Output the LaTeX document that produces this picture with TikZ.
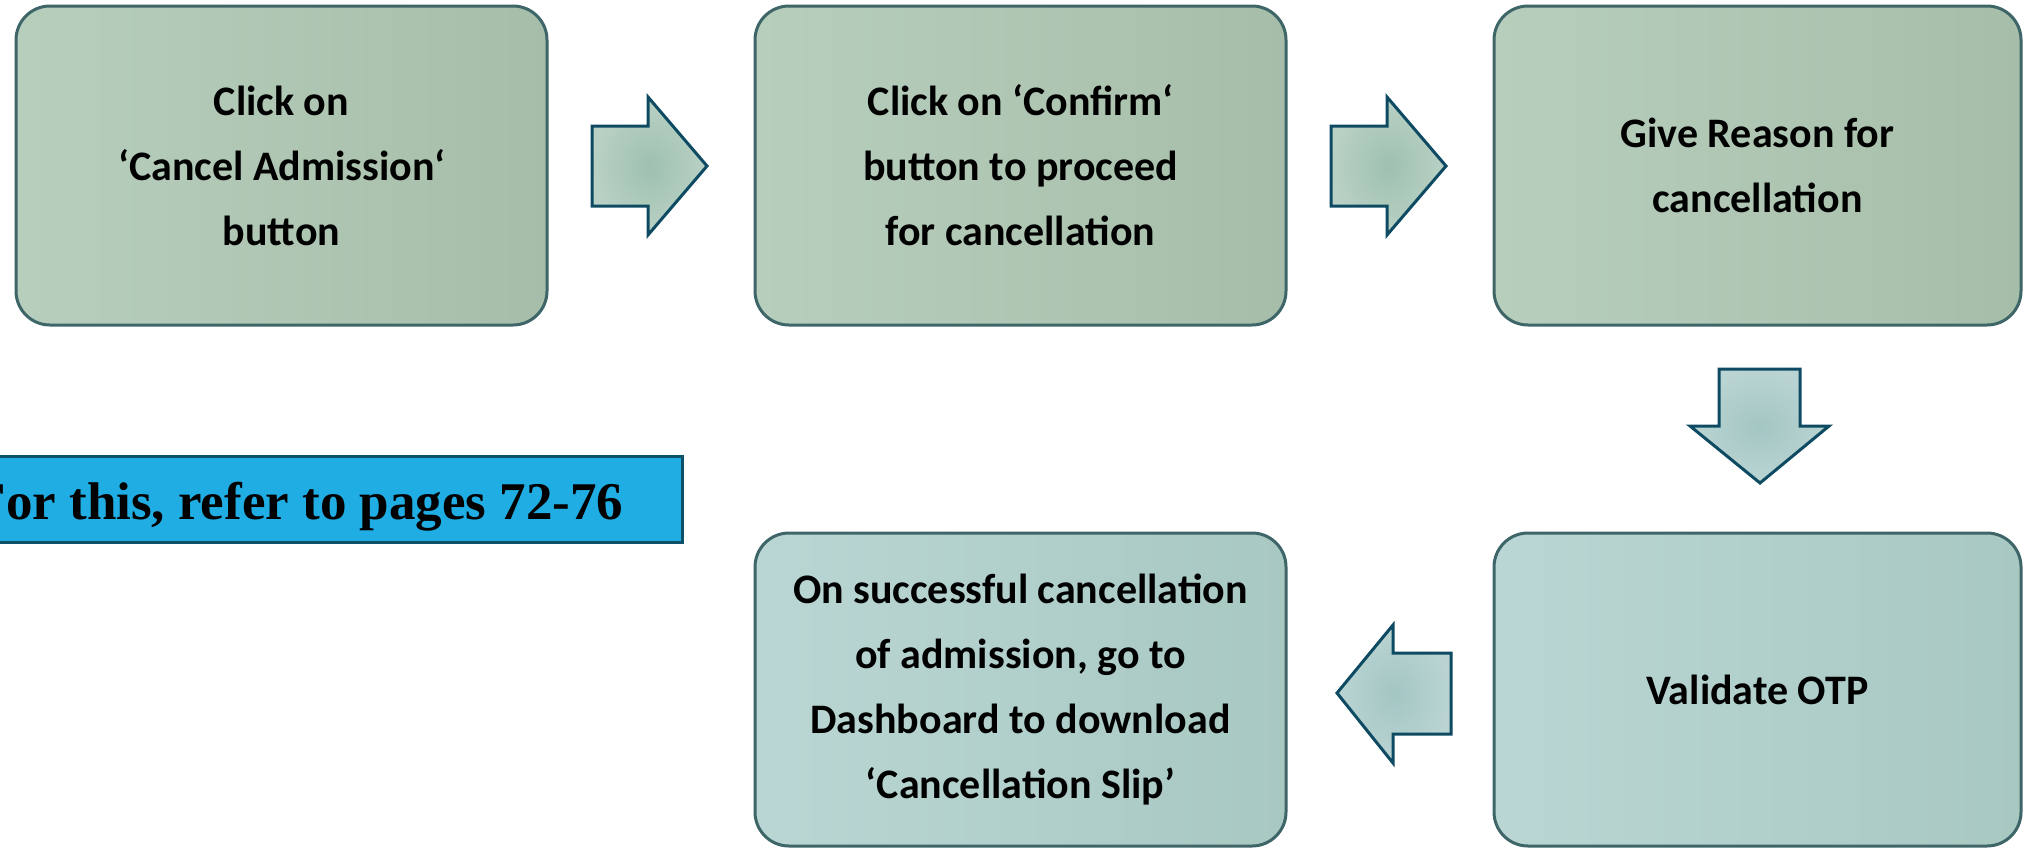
\documentclass[tikz,border=0pt]{standalone}
\usepackage{fontspec}
\setmainfont{Carlito}
\newfontfamily\labfont{Liberation Serif}
\definecolor{boxedge}{HTML}{3E6568}
\definecolor{topL}{HTML}{B7CEBD}
\definecolor{topR}{HTML}{A6BEA9}
\definecolor{botL}{HTML}{BAD6D4}
\definecolor{botR}{HTML}{A8C8C2}
\definecolor{arredge}{HTML}{0E4B62}
\definecolor{arrin}{HTML}{9FC1AF}
\definecolor{arrout}{HTML}{B9D1C5}
\definecolor{arrinB}{HTML}{A3C6C3}
\definecolor{arroutB}{HTML}{BAD4D3}
\definecolor{labfill}{HTML}{1FADE4}
\definecolor{labedge}{HTML}{0D5168}
\tikzset{
  stepbox/.style={draw=boxedge, line width=3pt, rounded corners=34pt,
    align=center, font=\fontsize{42}{65}\selectfont\bfseries, text=black,
    inner sep=0pt},
  toprow/.style={stepbox, left color=topL, right color=topR,
    minimum width=531pt, minimum height=319pt},
  botrow/.style={stepbox, left color=botL, right color=botR,
    minimum width=531pt, minimum height=313pt},
  blockarrow/.style={draw=arredge, line width=3pt, line join=miter,
    inner color=arrin, outer color=arrout},
  blockarrowB/.style={draw=arredge, line width=3pt, line join=miter,
    inner color=arrinB, outer color=arroutB},
}
\begin{document}
\begin{tikzpicture}[x=1pt,y=-1pt]
\useasboundingbox (0,0) rectangle (2023,849);
\clip (0,0) rectangle (2023,849);

% boxes
\node[toprow] (b1) at (281.5,165.5) {Click on\\‘Cancel Admission‘\\button};
\node[toprow] (b2) at (1020.5,165.5) {Click on ‘Confirm‘\\button to proceed\\for cancellation};
\node[toprow, minimum width=527pt] (b3) at (1757.5,165.5) {Give Reason for\\cancellation};
\node[botrow, minimum width=527pt] (b5) at (1757.5,689.5) {Validate OTP};
\node[botrow] (b4) at (1020.5,689.5) {On successful cancellation\\of admission, go to\\Dashboard to download\\‘Cancellation Slip’};

% block arrows
\path[blockarrow] (592,126) -- (648,126) -- (648,97) -- (707,166) -- (648,235) -- (648,206) -- (592,206) -- cycle;
\path[blockarrow] (1331,126) -- (1387,126) -- (1387,97) -- (1446,166) -- (1387,235) -- (1387,206) -- (1331,206) -- cycle;
\path[blockarrowB] (1719,369) -- (1800,369) -- (1800,426) -- (1829,426) -- (1760,483) -- (1690,426) -- (1719,426) -- cycle;
\path[blockarrowB] (1451,653) -- (1393,653) -- (1393,625) -- (1337,693) -- (1393,763) -- (1393,734) -- (1451,734) -- cycle;

% reference label
\node[draw=labedge, fill=labfill, line width=3pt, minimum width=767pt,
  minimum height=86pt, inner sep=0pt] (lab) at (298.5,499) {};
\node[anchor=base, inner sep=0pt, font=\labfont\fontsize{53}{60}\selectfont\bfseries]
  (labtext) at (298.5,519) {For this, refer to pages 72-76};
\end{tikzpicture}
\end{document}
